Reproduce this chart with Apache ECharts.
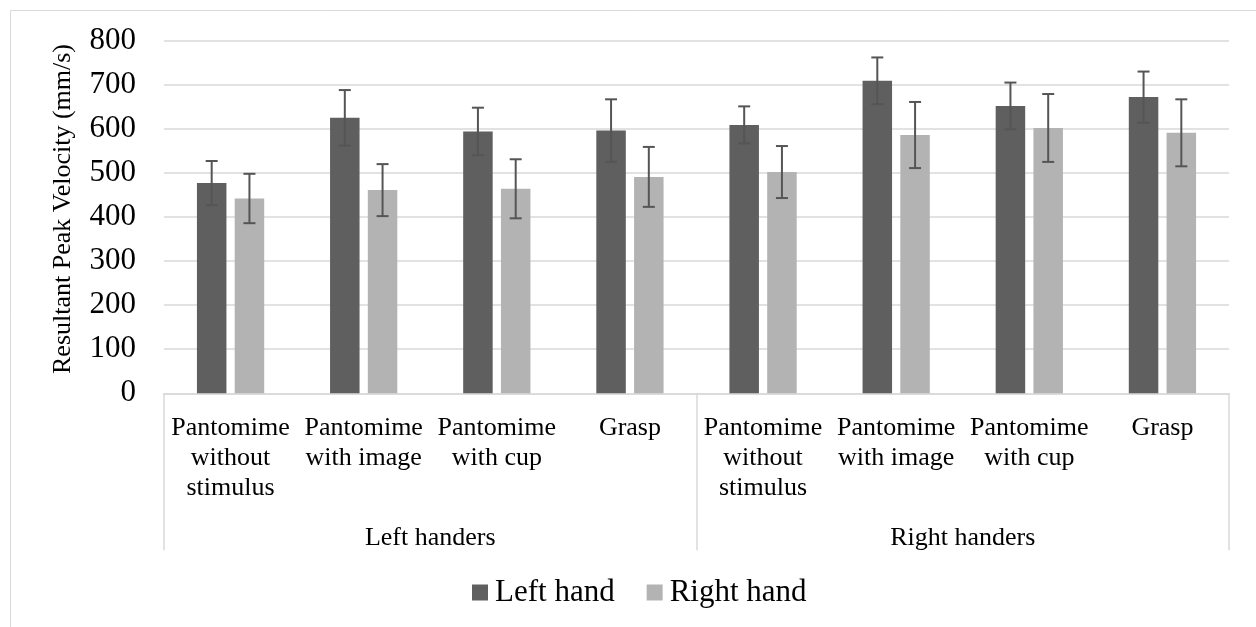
<!DOCTYPE html>
<html>
<head>
<meta charset="utf-8">
<script src="https://cdn.jsdelivr.net/npm/echarts@6/dist/echarts.min.js"></script>
<style>
  html, body { margin: 0; padding: 0; background: #fff; }
  #chart { width: 1256px; height: 627px; }
</style>
</head>
<body>
<div id="chart"></div>
<script>
// Conditions within each handedness group
const categories = [
  'Pantomime\nwithout\nstimulus', 'Pantomime\nwith image', 'Pantomime\nwith cup', 'Grasp',
  'Pantomime\nwithout\nstimulus', 'Pantomime\nwith image', 'Pantomime\nwith cup', 'Grasp'
];
const groups = ['Left handers', 'Right handers'];
const seriesNames = ['Left hand', 'Right hand'];

// Mean resultant peak velocity (mm/s)
const leftHand  = [477, 625, 594, 596, 609, 709, 652, 672];
const rightHand = [442, 461, 464, 491, 502, 586, 602, 591];

// Error bar half-lengths (mm/s)
const leftHandErr  = [50, 63, 54, 71, 42, 53, 53, 58];
const rightHandErr = [56, 59, 67, 68, 59, 75, 77, 76];

const yTicks = { min: 0, max: 800, interval: 100 };

const FONT = '"Liberation Serif", "Times New Roman", serif';
const DARK = '#5f5f5f';
const LIGHT = '#b3b3b3';
const GRID_COLOR = '#d9d9d9';
const BAR_WIDTH = 29.5;
const BAR_GAP = 0.28;
const CAP = 6;

function errorBars(name, means, errs, side) {
  const shift = side * BAR_WIDTH * (1 + BAR_GAP) / 2;
  return {
    type: 'custom',
    name: name,
    silent: true,
    z: 10,
    data: means.map((m, i) => [i, m, errs[i]]),
    encode: { x: 0, y: 1 },
    renderItem: function (params, api) {
      const i = api.value(0), m = api.value(1), e = api.value(2);
      const x = api.coord([i, m])[0] + shift;
      const yHi = api.coord([i, m + e])[1];
      const yLo = api.coord([i, m - e])[1];
      const style = { stroke: '#555555', lineWidth: 2 };
      return {
        type: 'group',
        children: [
          { type: 'line', shape: { x1: x, y1: yHi, x2: x, y2: yLo }, style: style },
          { type: 'line', shape: { x1: x - CAP, y1: yHi, x2: x + CAP, y2: yHi }, style: style },
          { type: 'line', shape: { x1: x - CAP, y1: yLo, x2: x + CAP, y2: yLo }, style: style }
        ]
      };
    }
  };
}

const chart = echarts.init(document.getElementById('chart'), null, { renderer: 'canvas' });

chart.setOption({
  animation: false,
  backgroundColor: '#ffffff',
  textStyle: { fontFamily: FONT, color: '#000' },
  graphic: [{
    type: 'rect',
    shape: { x: 10.5, y: 10.5, width: 1400, height: 800 },
    style: { fill: 'none', stroke: GRID_COLOR, lineWidth: 1 },
    silent: true, z: -1
  }],
  grid: { left: 164, right: 27, top: 40.7, bottom: 233.7, containLabel: false },
  legend: {
    data: seriesNames,
    left: 467,
    top: 572,
    icon: 'rect',
    itemWidth: 16,
    itemHeight: 16,
    itemGap: 32,
    textStyle: { fontFamily: FONT, fontSize: 31, color: '#000', padding: [0, 0, 0, 2] }
  },
  xAxis: [
    {
      type: 'category',
      data: categories,
      position: 'bottom',
      axisLine: { show: true, lineStyle: { color: GRID_COLOR, width: 1.5 } },
      axisTick: { show: false },
      axisLabel: {
        interval: 0,
        margin: 20,
        fontFamily: FONT,
        fontSize: 26,
        lineHeight: 30,
        color: '#000',
        align: 'center'
      }
    },
    {
      type: 'category',
      data: groups,
      position: 'bottom',
      axisLine: { show: false },
      axisTick: { show: true, length: 157, interval: 0, lineStyle: { color: GRID_COLOR, width: 1.5 } },
      axisLabel: {
        interval: 0,
        margin: 130,
        fontFamily: FONT,
        fontSize: 26,
        lineHeight: 30,
        color: '#000'
      },
      splitLine: { show: false }
    }
  ],
  yAxis: {
    type: 'value',
    min: yTicks.min,
    max: yTicks.max,
    interval: yTicks.interval,
    name: 'Resultant Peak Velocity (mm/s)',
    nameLocation: 'middle',
    nameGap: 88,
    nameRotate: 90,
    nameTextStyle: { fontFamily: FONT, fontSize: 26, color: '#000', padding: [0, 0, 0, 16] },
    axisLine: { show: false },
    axisTick: { show: false },
    axisLabel: { margin: 28, fontFamily: FONT, fontSize: 31, color: '#000' },
    splitLine: { lineStyle: { color: GRID_COLOR, width: 1.5 } }
  },
  series: [
    {
      name: seriesNames[0],
      type: 'bar',
      data: leftHand,
      barWidth: BAR_WIDTH,
      barGap: (BAR_GAP * 100) + '%',
      itemStyle: { color: DARK }
    },
    {
      name: seriesNames[1],
      type: 'bar',
      data: rightHand,
      barWidth: BAR_WIDTH,
      barGap: (BAR_GAP * 100) + '%',
      itemStyle: { color: LIGHT }
    },
    errorBars('Left hand error', leftHand, leftHandErr, -1),
    errorBars('Right hand error', rightHand, rightHandErr, 1)
  ]
});
</script>
</body>
</html>
